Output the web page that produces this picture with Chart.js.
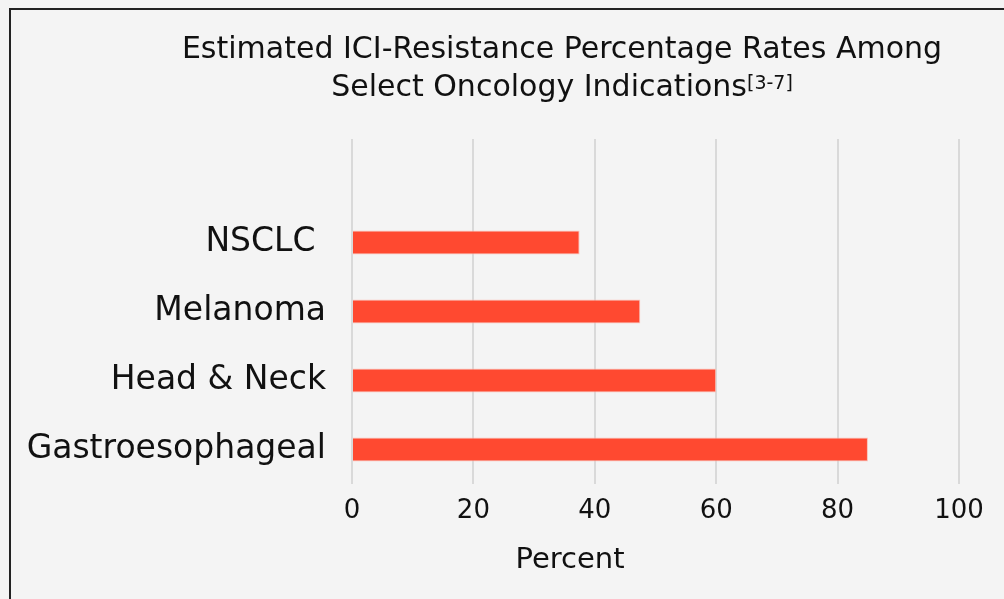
<!DOCTYPE html>
<html>
<head>
<meta charset="utf-8">
<script src="https://cdn.jsdelivr.net/npm/chart.js@4"></script>
<style>
  html, body { margin: 0; padding: 0; background: #f4f4f4; overflow: hidden; }
</style>
</head>
<body>
<canvas id="myChart" width="1004" height="599"></canvas>
<script>
// first slot stays empty, it only reserves room under the title
const indications = ['', 'NSCLC ', 'Melanoma', 'Head & Neck', 'Gastroesophageal'];
const resistancePct = [null, 37.5, 47.5, 60, 85];
const titleLines = ['Estimated ICI-Resistance Percentage Rates Among', 'Select Oncology Indications'];
const titleRef = '[3-7]';
const axisName = 'Percent';

const FONT = '"DejaVu Sans", sans-serif';

// frame, title (with reference superscript) and axis name
const decor = {
    id: 'decor',
    afterDraw(chart) {
        const c = chart.ctx;
        c.save();
        c.strokeStyle = '#222';
        c.lineWidth = 2;
        c.beginPath();
        c.moveTo(10, 599);
        c.lineTo(10, 9);
        c.lineTo(1004, 9);
        c.stroke();

        c.fillStyle = '#111';
        c.textBaseline = 'alphabetic';
        c.font = '30px ' + FONT;
        c.textAlign = 'center';
        c.fillText(titleLines[0], 562, 58);

        c.textAlign = 'left';
        const w1 = c.measureText(titleLines[1]).width;
        c.font = '19px ' + FONT;
        const w2 = c.measureText(titleRef).width;
        const x0 = 562 - (w1 + w2) / 2;
        c.font = '30px ' + FONT;
        c.fillText(titleLines[1], x0, 96);
        c.font = '19px ' + FONT;
        c.fillText(titleRef, x0 + w1, 89);

        c.font = '29px ' + FONT;
        c.textAlign = 'center';
        c.fillText(axisName, 570, 568);
        c.restore();
    }
};

const ctx = document.getElementById('myChart');
const PLOT = new Chart(ctx, {
    type: 'bar',
    data: {
        labels: indications,
        datasets: [{
            data: resistancePct,
            backgroundColor: '#ff4930',
            borderColor: '#f9c3ba',
            borderWidth: 1,
            barPercentage: 0.35,
            categoryPercentage: 1
        }]
    },
    options: {
        indexAxis: 'y',
        responsive: false,
        animation: false,
        devicePixelRatio: 1,
        layout: {
            padding: { top: 139, right: 45, left: 0, bottom: 0 }
        },
        plugins: {
            legend: { display: false },
            tooltip: { enabled: false }
        },
        scales: {
            x: {
                min: 0,
                max: 100,
                ticks: {
                    stepSize: 20,
                    color: '#111',
                    padding: 12,
                    font: { family: FONT, size: 26 }
                },
                grid: {
                    color: '#d9d9d9',
                    lineWidth: 2,
                    drawTicks: false
                },
                border: { display: false },
                afterFit(scale) { scale.height = 115; }
            },
            y: {
                ticks: {
                    color: '#111',
                    padding: 26,
                    font: { family: FONT, size: 33 }
                },
                grid: { display: false, drawTicks: false },
                border: { display: false },
                afterFit(scale) { scale.width = 352; }
            }
        }
    },
    plugins: [decor]
});
</script>
</body>
</html>
